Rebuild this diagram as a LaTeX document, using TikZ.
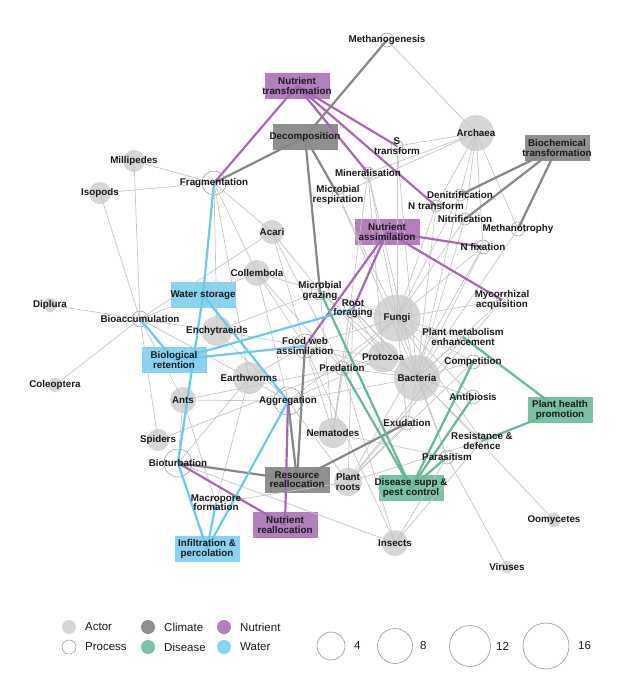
\documentclass[tikz,border=0pt]{standalone}
\usepackage{fontspec}
\setmainfont{Liberation Sans}
\definecolor{actorc}{RGB}{214,214,214}
\definecolor{procc}{RGB}{150,150,150}
\definecolor{edgec}{RGB}{198,198,198}
\definecolor{climc}{RGB}{143,143,143}
\definecolor{climl}{RGB}{135,135,135}
\definecolor{nutc}{RGB}{178,126,188}
\definecolor{nutl}{RGB}{163,106,176}
\definecolor{disc}{RGB}{122,194,165}
\definecolor{disl}{RGB}{104,184,150}
\definecolor{watc}{RGB}{135,212,242}
\definecolor{watl}{RGB}{108,200,236}
\definecolor{txtc}{RGB}{25,25,25}
\tikzset{
  actor/.style={circle, fill=actorc, draw=none, minimum size=#1, inner sep=0pt},
  proc/.style={circle, fill=white, draw=procc, line width=0.5pt, minimum size=#1, inner sep=0pt},
  fbox/.style={rectangle, fill=#1, draw=none, minimum width=65pt, minimum height=26pt, inner sep=0pt},
  lbl/.style={font=\bfseries\fontsize{9.8}{9.3}\selectfont, align=center, inner sep=0pt, text=txtc},
  leg/.style={font=\fontsize{11.5}{12}\selectfont, anchor=west, inner sep=0pt, text=txtc},
  ge/.style={draw=edgec, line width=0.7pt},
  ce/.style={draw=climl, line width=2.2pt},
  ne/.style={draw=nutl, line width=2.2pt},
  de/.style={draw=disl, line width=2.2pt},
  we/.style={draw=watl, line width=2.2pt},
  sizec/.style={circle, draw=procc, line width=0.6pt, fill=white, minimum size=#1, inner sep=0pt}
}
\begin{document}
\begin{tikzpicture}[x=1pt,y=-1pt]
\useasboundingbox (0,0) rectangle (624,680);
% ---------- actors ----------
\node[actor=36] (archaea) at (476,133) {};
\node[actor=22] (millip) at (134,161) {};
\node[actor=22] (isopods) at (100,193) {};
\node[actor=24] (acari) at (272,232) {};
\node[actor=26] (collem) at (257,273) {};
\node[actor=14] (diplura) at (50,305) {};
\node[actor=14] (coleop) at (55,385) {};
\node[actor=30] (enchy) at (217,331) {};
\node[actor=32] (earthw) at (249,378) {};
\node[actor=26] (ants) at (183,400) {};
\node[actor=22] (spiders) at (158,440) {};
\node[actor=47] (fungi) at (397,318) {};
\node[actor=31] (protozoa) at (383,357) {};
\node[actor=46] (bacteria) at (417,378) {};
\node[actor=30] (nematodes) at (333,433) {};
\node[actor=28] (plantroots) at (348,482) {};
\node[actor=26] (insects) at (395,543) {};
\node[actor=14] (oomy) at (554,520) {};
\node[actor=12] (viruses) at (507,567) {};
% ---------- processes ----------
\node[proc=14] (meth) at (387,40) {};
\node[proc=12] (stran) at (397,146) {};
\node[proc=12] (miner) at (368,173) {};
\node[proc=12] (mresp) at (338,195) {};
\node[proc=12] (denit) at (460,195) {};
\node[proc=12] (ntran) at (436,206) {};
\node[proc=12] (nitri) at (465,219) {};
\node[proc=14] (methan) at (518,229) {};
\node[proc=14] (nfix) at (483,247) {};
\node[proc=24] (frag) at (214,183) {};
\node[proc=18] (mgraz) at (320,291) {};
\node[proc=18] (rootf) at (353,309) {};
\node[proc=12] (myco) at (502,300) {};
\node[proc=16] (bioacc) at (140,319) {};
\node[proc=24] (fwa) at (305,346) {};
\node[proc=12] (plantm) at (463,337) {};
\node[proc=14] (pred) at (342,368) {};
\node[proc=14] (compe) at (473,362) {};
\node[proc=28] (aggr) at (288,401) {};
\node[proc=14] (antib) at (473,397) {};
\node[proc=14] (exud) at (407,423) {};
\node[proc=12] (resist) at (482,441) {};
\node[proc=14] (parasit) at (447,457) {};
\node[proc=28] (biot) at (178,463) {};
\node[proc=12] (macro) at (216,503) {};
% ---------- function boxes ----------
\node[fbox=nutc] (ntbox) at (297,86) {};
\node[fbox=climc] (decomp) at (305,137) {};
\node[fbox=climc] (biobox) at (557,148) {};
\node[fbox=nutc] (nabox) at (387,232) {};
\node[fbox=watc] (wsbox) at (203,295) {};
\node[fbox=watc] (brbox) at (174,360) {};
\node[fbox=climc] (rrbox) at (297,480) {};
\node[fbox=nutc] (nrbox) at (285,525) {};
\node[fbox=watc] (ipbox) at (207,549) {};
\node[fbox=disc] (dsbox) at (411,488) {};
\node[fbox=disc] (phpbox) at (560,410) {};
% ---------- grey edges ----------
\foreach \a/\b in {archaea/meth, archaea/stran, archaea/denit, archaea/ntran, archaea/nitri, archaea/methan, archaea/nfix, archaea/mresp, archaea/miner,
  fungi/miner, fungi/stran, fungi/mresp, fungi/ntran, fungi/denit, fungi/nitri, fungi/nfix, fungi/myco, fungi/plantm, fungi/compe, fungi/antib, fungi/parasit, fungi/rootf, fungi/mgraz, fungi/fwa, fungi/pred, fungi/aggr, fungi/resist, fungi/exud,
  bacteria/miner, bacteria/stran, bacteria/mresp, bacteria/denit, bacteria/ntran, bacteria/nitri, bacteria/nfix, bacteria/methan, bacteria/plantm, bacteria/compe, bacteria/antib, bacteria/parasit, bacteria/resist, bacteria/exud, bacteria/rootf, bacteria/mgraz, bacteria/fwa, bacteria/pred, bacteria/aggr, bacteria/myco,
  protozoa/mgraz, protozoa/fwa, protozoa/pred, protozoa/miner, protozoa/rootf, protozoa/aggr,
  nematodes/mgraz, nematodes/fwa, nematodes/pred, nematodes/parasit, nematodes/miner, nematodes/rootf,
  plantroots/exud, plantroots/rootf, plantroots/aggr, plantroots/macro, plantroots/plantm, plantroots/compe, plantroots/resist, plantroots/myco, plantroots/nfix,
  insects/parasit, insects/resist, insects/pred, insects/biot, insects/fwa,
  earthw/frag, earthw/bioacc, earthw/aggr, earthw/biot, earthw/macro, earthw/fwa,
  enchy/frag, enchy/bioacc, enchy/aggr, enchy/fwa, enchy/mgraz,
  collem/frag, collem/mgraz, collem/fwa, collem/aggr, collem/bioacc, collem/pred,
  acari/frag, acari/mgraz, acari/fwa, acari/pred, acari/bioacc,
  ants/bioacc, ants/biot, ants/macro, ants/pred, ants/aggr,
  spiders/bioacc, spiders/pred,
  millip/frag, millip/bioacc, isopods/frag, isopods/bioacc,
  diplura/bioacc, coleop/bioacc, oomy/rootf, viruses/parasit}
  \draw[ge] (\a.center) -- (\b.center);
% ---------- coloured edges ----------
\foreach \a/\b in {decomp/meth, decomp/frag, decomp/mresp, decomp/mgraz, biobox/denit, biobox/nitri, biobox/methan, rrbox/aggr, rrbox/fwa, rrbox/biot, rrbox/exud}
  \draw[ce] (\a.center) -- (\b.center);
\foreach \a/\b in {ntbox/frag, ntbox/stran, ntbox/miner, ntbox/ntran, nabox/rootf, nabox/fwa, nabox/nfix, nabox/myco, nrbox/aggr, nrbox/biot}
  \draw[ne] (\a.center) -- (\b.center);
\foreach \a/\b in {wsbox/frag, wsbox/biot, wsbox/aggr, brbox/bioacc, brbox/fwa, brbox/rootf, ipbox/biot, ipbox/macro, ipbox/aggr}
  \draw[we] (\a.center) -- (\b.center);
\foreach \a/\b in {dsbox/mgraz, dsbox/pred, dsbox/compe, dsbox/antib, dsbox/parasit, phpbox/plantm, phpbox/resist}
  \draw[de] (\a.center) -- (\b.center);
% ---------- labels ----------
\node[lbl] (l-archaea) at (archaea) {Archaea};
\node[lbl] (l-millip) at (millip) {Millipedes};
\node[lbl] (l-isopods) at (isopods) {Isopods};
\node[lbl] (l-acari) at (acari) {Acari};
\node[lbl] (l-collem) at (collem) {Collembola};
\node[lbl] (l-diplura) at (diplura) {Diplura};
\node[lbl] (l-coleop) at (coleop) {Coleoptera};
\node[lbl] (l-enchy) at (enchy) {Enchytraeids};
\node[lbl] (l-earthw) at (earthw) {Earthworms};
\node[lbl] (l-ants) at (ants) {Ants};
\node[lbl] (l-spiders) at (spiders) {Spiders};
\node[lbl] (l-fungi) at (fungi) {Fungi};
\node[lbl] (l-protozoa) at (protozoa) {Protozoa};
\node[lbl] (l-bacteria) at (bacteria) {Bacteria};
\node[lbl] (l-nematodes) at (nematodes) {Nematodes};
\node[lbl] (l-plantroots) at (plantroots) {Plant\\roots};
\node[lbl] (l-insects) at (insects) {Insects};
\node[lbl] (l-oomy) at (oomy) {Oomycetes};
\node[lbl] (l-viruses) at (viruses) {Viruses};
\node[lbl] (l-meth) at (meth) {Methanogenesis};
\node[lbl] (l-stran) at (stran) {S\\transform};
\node[lbl] (l-miner) at (miner) {Mineralisation};
\node[lbl] (l-mresp) at (mresp) {Microbial\\respiration};
\node[lbl] (l-denit) at (denit) {Denitrification};
\node[lbl] (l-ntran) at (ntran) {N transform};
\node[lbl] (l-nitri) at (nitri) {Nitrification};
\node[lbl] (l-methan) at (methan) {Methanotrophy};
\node[lbl] (l-nfix) at (nfix) {N fixation};
\node[lbl] (l-frag) at (frag) {Fragmentation};
\node[lbl] (l-mgraz) at (mgraz) {Microbial\\grazing};
\node[lbl] (l-rootf) at (rootf) {Root\\foraging};
\node[lbl] (l-myco) at (myco) {Mycorrhizal\\acquisition};
\node[lbl] (l-bioacc) at (bioacc) {Bioaccumulation};
\node[lbl] (l-fwa) at (fwa) {Food web\\assimilation};
\node[lbl] (l-plantm) at (plantm) {Plant metabolism\\enhancement};
\node[lbl] (l-pred) at (pred) {Predation};
\node[lbl] (l-compe) at (compe) {Competition};
\node[lbl] (l-aggr) at (aggr) {Aggregation};
\node[lbl] (l-antib) at (antib) {Antibiosis};
\node[lbl] (l-exud) at (exud) {Exudation};
\node[lbl] (l-resist) at (resist) {Resistance \&\\defence};
\node[lbl] (l-parasit) at (parasit) {Parasitism};
\node[lbl] (l-biot) at (biot) {Bioturbation};
\node[lbl] (l-macro) at (macro) {Macropore\\formation};
\node[lbl] (l-ntbox) at (ntbox) {Nutrient\\transformation};
\node[lbl] (l-decomp) at (decomp) {Decomposition};
\node[lbl] (l-biobox) at (biobox) {Biochemical\\transformation};
\node[lbl] (l-nabox) at (nabox) {Nutrient\\assimilation};
\node[lbl] (l-wsbox) at (wsbox) {Water storage};
\node[lbl] (l-brbox) at (brbox) {Biological\\retention};
\node[lbl] (l-rrbox) at (rrbox) {Resource\\reallocation};
\node[lbl] (l-nrbox) at (nrbox) {Nutrient\\reallocation};
\node[lbl] (l-ipbox) at (ipbox) {Infiltration \&\\percolation};
\node[lbl] (l-dsbox) at (dsbox) {Disease supp \&\\pest control};
\node[lbl] (l-phpbox) at (phpbox) {Plant health\\promotion};
% ---------- legend ----------
\node[actor=14] (k-actor) at (69,627) {};
\node[leg] (kt-actor) at (85,627) {Actor};
\node[proc=14] (k-proc) at (69,647) {};
\node[leg] (kt-proc) at (85,647) {Process};
\node[actor=14, fill=climc] (k-clim) at (148,627) {};
\node[leg] (kt-clim) at (164,627) {Climate};
\node[actor=14, fill=disc] (k-dis) at (148,647) {};
\node[leg] (kt-dis) at (164,647) {Disease};
\node[actor=14, fill=nutc] (k-nut) at (224,627) {};
\node[leg] (kt-nut) at (240,627) {Nutrient};
\node[actor=14, fill=watc] (k-wat) at (224,647) {};
\node[leg] (kt-wat) at (240,647) {Water};
\node[sizec=28] (s4) at (331,646) {};
\node[leg] (st4) at (354,646) {4};
\node[sizec=35] (s8) at (395,646) {};
\node[leg] (st8) at (420,646) {8};
\node[sizec=41] (s12) at (470,646) {};
\node[leg] (st12) at (496,646) {12};
\node[sizec=46] (s16) at (546,646) {};
\node[leg] (st16) at (578,646) {16};
\end{tikzpicture}
\end{document}
